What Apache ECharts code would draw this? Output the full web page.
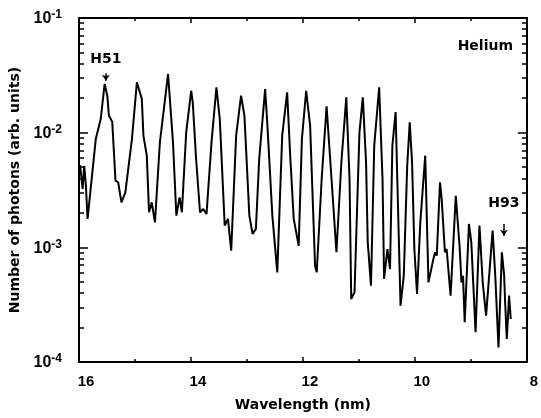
<!DOCTYPE html>
<html>
<head>
<meta charset="utf-8">
<script src="https://cdn.jsdelivr.net/npm/echarts@6/dist/echarts.min.js"></script>
<style>
html,body{margin:0;padding:0;background:#fff;}
#chart{width:541px;height:418px;}
</style>
</head>
<body>
<div id="chart"></div>
<script>
// Wavelength (nm) of each sampled point
const wavelength = [
15.98,15.935,15.907,15.877,15.847,15.700,15.612,15.542,15.494,15.466,15.406,15.348,15.300,15.242,15.172,
15.054,14.966,14.878,14.849,14.789,14.749,14.701,14.643,14.555,14.409,14.321,14.261,14.203,14.162,14.085,
13.996,13.968,13.908,13.838,13.780,13.722,13.633,13.545,13.485,13.397,13.339,13.281,13.193,13.105,13.045,
12.957,12.899,12.840,12.781,12.675,12.634,12.546,12.458,12.370,12.282,12.224,12.164,12.076,12.018,11.942,
11.871,11.783,11.753,11.665,11.577,11.489,11.401,11.313,11.225,11.167,11.137,11.078,10.990,10.930,10.872,
10.842,10.784,10.726,10.638,10.578,10.550,10.490,10.444,10.402,10.344,10.314,10.256,10.198,10.137,10.092,
10.050,10.009,9.961,9.903,9.815,9.757,9.669,9.639,9.609,9.551,9.521,9.493,9.463,9.433,9.362,
9.269,9.198,9.168,9.140,9.110,9.034,8.992,8.916,8.846,8.788,8.728,8.611,8.564,8.506,8.446,
8.405,8.388,8.358,8.317,8.287
];
// Number of photons (arb. units)
const photons = [
5.2e-3,3.23e-3,5.15e-3,3.45e-3,1.77e-3,8.81e-3,1.315e-2,2.66e-2,2.10e-2,1.41e-2,1.24e-2,3.81e-3,3.69e-3,2.47e-3,3.02e-3,
8.81e-3,2.75e-2,1.97e-2,9.41e-3,6.30e-3,2.02e-3,2.47e-3,1.65e-3,8.24e-3,3.25e-2,8.24e-3,1.89e-3,2.73e-3,2.02e-3,1.007e-2,
2.32e-2,1.84e-2,5.89e-3,2.02e-3,2.16e-3,1.95e-3,8.24e-3,2.49e-2,1.315e-2,1.55e-3,1.77e-3,9.35e-4,9.41e-3,2.10e-2,1.41e-2,
1.89e-3,1.31e-3,1.45e-3,5.89e-3,2.40e-2,1.15e-2,1.89e-3,6.05e-4,9.41e-3,2.25e-2,5.89e-3,1.77e-3,1.03e-3,8.81e-3,2.32e-2,
1.15e-2,6.92e-4,6.05e-4,3.94e-3,1.70e-2,3.94e-3,9.05e-4,5.52e-3,2.03e-2,3.94e-3,3.54e-4,4.06e-4,1.007e-2,2.03e-2,5.52e-3,
1.11e-3,4.63e-4,7.69e-3,2.49e-2,3.94e-3,5.30e-4,9.67e-4,6.47e-4,7.69e-3,1.51e-2,3.94e-3,3.10e-4,5.66e-4,5.15e-3,1.23e-2,
5.52e-3,9.67e-4,3.92e-4,1.65e-3,6.30e-3,4.95e-4,7.91e-4,9.05e-4,8.46e-4,3.69e-3,2.64e-3,2.64e-3,9.05e-4,9.67e-4,3.79e-4,
2.82e-3,9.67e-4,4.95e-4,5.66e-4,2.22e-4,1.60e-3,1.11e-3,1.82e-4,1.55e-3,4.95e-4,2.54e-4,1.40e-3,5.66e-4,1.34e-4,9.05e-4,
5.66e-4,3.32e-4,1.59e-4,3.79e-4,2.37e-4
];
// Axis ticks
const xTicks = [16, 14, 12, 10, 8];
const yDecades = [1e-4, 1e-3, 1e-2, 1e-1];
const yMinor = [];
for (let d = -4; d < -1; d++) for (let m = 2; m <= 9; m++) yMinor.push(m * Math.pow(10, d));
// Annotations: [label, wavelength, text level, arrow top, arrow bottom]
const annotations = [
  ['H51', 15.52, 0.044, 0.033, 0.0283],
  ['H93', 8.41, 0.0024, 0.0016, 0.00126]
];
const panelLabel = 'Helium';

const FONT = 'Liberation Sans';
const TFONT = 'DejaVu Sans';
const chart = echarts.init(document.getElementById('chart'));

const yBase = {
  type: 'log', logBase: 10, min: 1e-4, max: 1e-1,
  splitLine: {show: false}, axisLabel: {show: false},
  axisLine: {show: false}
};

chart.setOption({
  animation: false,
  backgroundColor: '#fff',
  title: {
    text: panelLabel, right: 23, top: 34,
    textStyle: {fontFamily: TFONT, fontSize: 14, fontWeight: 'bold', color: '#000'}
  },
  grid: {left: 79, right: 8, top: 18, bottom: 56},
  xAxis: [
    {
      type: 'value', min: 8, max: 16, interval: 2, inverse: true, position: 'bottom',
      name: 'Wavelength (nm)', nameLocation: 'middle', nameGap: 36,
      nameTextStyle: {fontFamily: TFONT, fontSize: 14, fontWeight: 'bold', color: '#000'},
      axisLine: {lineStyle: {color: '#000', width: 2}},
      axisTick: {inside: true, length: 5, lineStyle: {color: '#000', width: 1.5}},
      minorTick: {show: true, splitNumber: 2, length: 3, lineStyle: {color: '#000', width: 1.5}},
      splitLine: {show: false},
      axisLabel: {fontFamily: FONT, fontSize: 15, fontWeight: 'bold', color: '#000', margin: 12,
        padding: [0, 0, 0, 14], formatter: v => String(v)}
    },
    {
      type: 'value', min: 8, max: 16, interval: 2, inverse: true, position: 'top',
      axisLine: {lineStyle: {color: '#000', width: 2}},
      axisTick: {inside: true, length: 5, lineStyle: {color: '#000', width: 1.5}},
      minorTick: {show: true, splitNumber: 2, length: 3, lineStyle: {color: '#000', width: 1.5}},
      splitLine: {show: false}, axisLabel: {show: false}
    }
  ],
  yAxis: [
    {
      type: 'log', logBase: 10, min: 1e-4, max: 1e-1, position: 'left',
      name: 'Number of photons (arb. units)', nameLocation: 'middle', nameGap: 55,
      nameTextStyle: {fontFamily: TFONT, fontSize: 14, fontWeight: 'bold', color: '#000'},
      axisLine: {show: true, lineStyle: {color: '#000', width: 2}},
      axisTick: {inside: true, length: 9, customValues: yDecades, lineStyle: {color: '#000', width: 1.5}},
      splitLine: {show: false},
      axisLabel: {
        customValues: yDecades, margin: 17,
        formatter: v => '{b|10}{s|' + Math.round(Math.log10(v)) + '}',
        rich: {
          b: {fontFamily: FONT, fontSize: 16, fontWeight: 'bold', color: '#000', verticalAlign: 'bottom'},
          s: {fontFamily: FONT, fontSize: 12, fontWeight: 'bold', color: '#000', verticalAlign: 'top', padding: [0, 0, 6, 0]}
        }
      }
    },
    Object.assign({}, yBase, {position: 'left',
      axisTick: {inside: true, length: 5, customValues: yMinor, lineStyle: {color: '#000', width: 1.5}}}),
    Object.assign({}, yBase, {position: 'right',
      axisLine: {show: true, lineStyle: {color: '#000', width: 2}},
      axisTick: {inside: true, length: 9, customValues: yDecades, lineStyle: {color: '#000', width: 1.5}}}),
    Object.assign({}, yBase, {position: 'right',
      axisTick: {inside: true, length: 5, customValues: yMinor, lineStyle: {color: '#000', width: 1.5}}})
  ],
  series: [{
    type: 'line',
    xAxisIndex: 0, yAxisIndex: 0,
    data: wavelength.map((w, i) => [w, photons[i]]),
    symbol: 'none',
    lineStyle: {color: '#000', width: 2},
    markPoint: {
      symbol: 'rect', symbolSize: 0,
      label: {show: true, position: 'inside', fontFamily: TFONT, fontSize: 14, fontWeight: 'bold', color: '#000',
        formatter: p => p.name},
      data: annotations.map(a => ({name: a[0], coord: [a[1], a[2]]}))
    },
    markLine: {
      silent: true, symbol: ['none', 'arrow'], symbolSize: 6,
      label: {show: false},
      lineStyle: {color: '#000', width: 1.5, type: 'solid'},
      data: annotations.map(a => [{coord: [a[1], a[3]]}, {coord: [a[1], a[4]]}])
    }
  }]
});
</script>
</body>
</html>
